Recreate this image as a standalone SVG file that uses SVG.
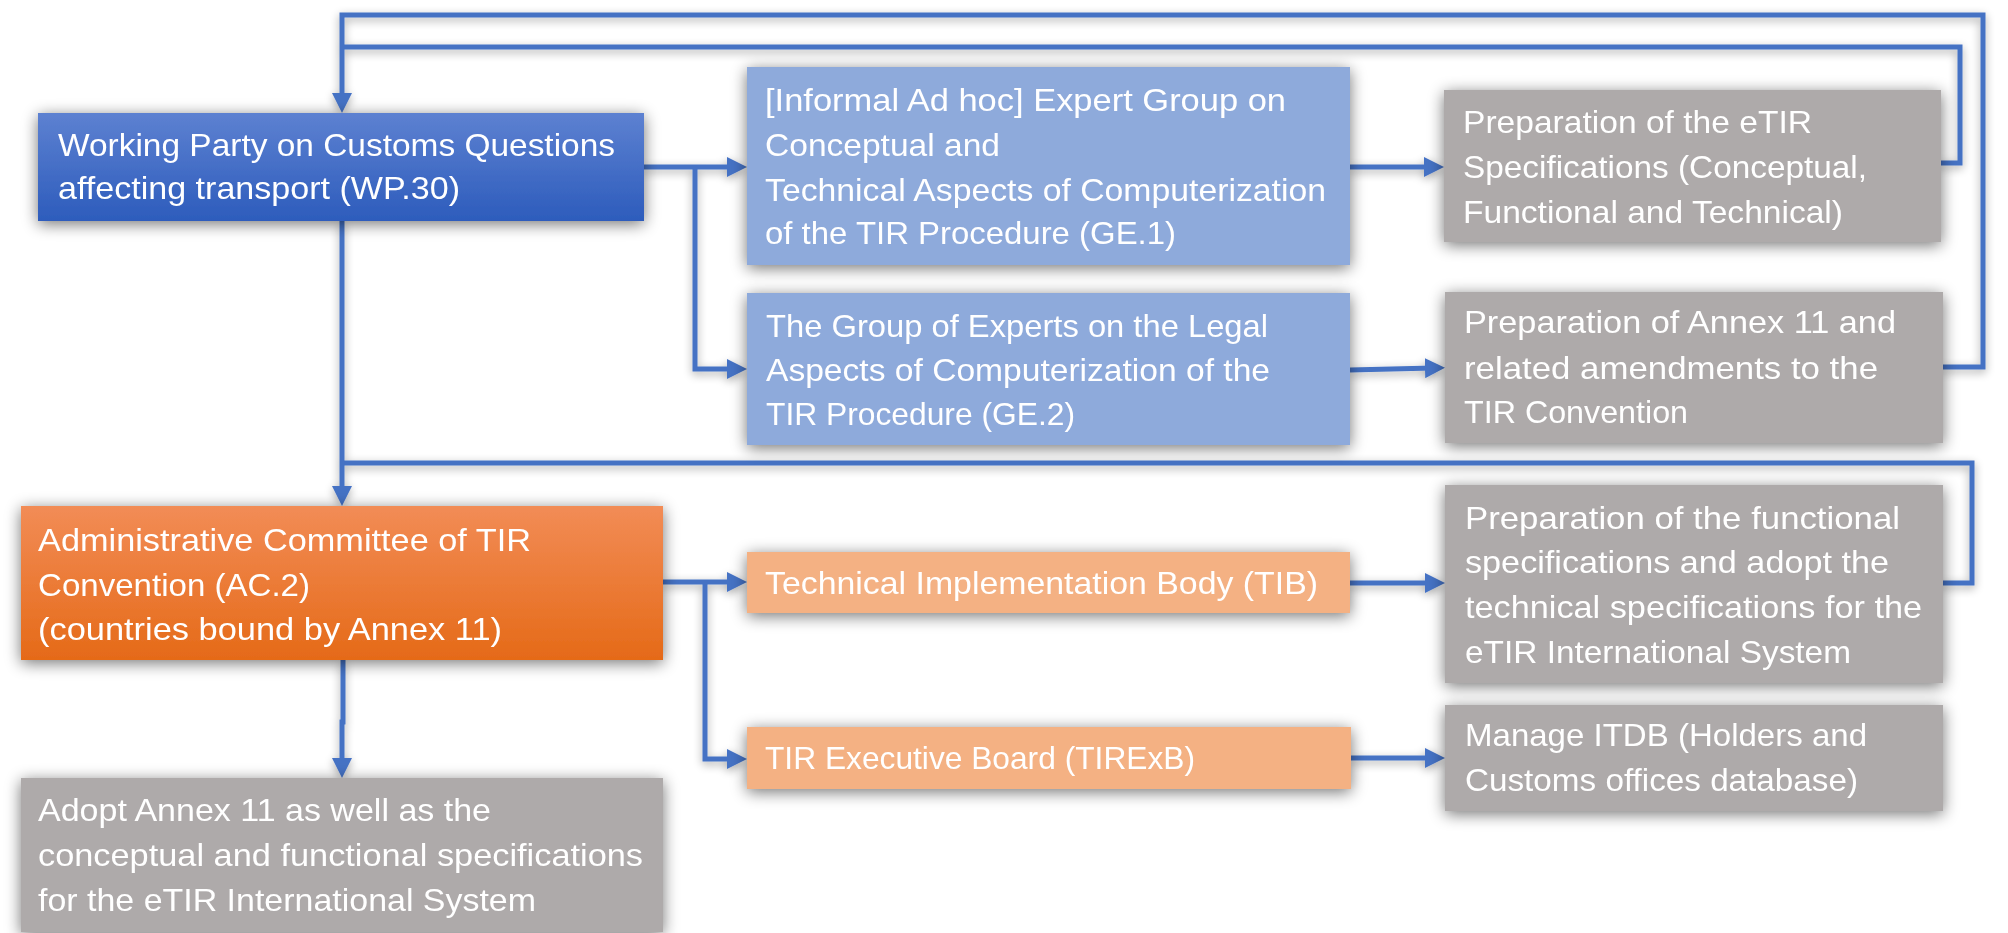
<svg xmlns="http://www.w3.org/2000/svg" width="2008" height="933" viewBox="0 0 2008 933">
<style>
.t{font-family:"Liberation Sans",Arial,sans-serif;font-size:32px;fill:#ffffff}
.c{fill:none;stroke:#4472c4;stroke-width:5}
.ca{fill:none;stroke:#4472c4;stroke-width:5;marker-end:url(#ah)}
.gray{fill:#aeaaaa}
.lb{fill:#8eaadb}
.lo{fill:#f4b183}
</style>
<defs>
<linearGradient id="gBlue" x1="0" y1="0" x2="0" y2="1">
<stop offset="0" stop-color="#5d81d1"/>
<stop offset="1" stop-color="#2d5cbc"/>
</linearGradient>
<linearGradient id="gOrange" x1="0" y1="0" x2="0" y2="1">
<stop offset="0" stop-color="#f28c56"/>
<stop offset="1" stop-color="#e56a18"/>
</linearGradient>
<filter id="sh" x="-20%" y="-40%" width="140%" height="180%">
<feGaussianBlur in="SourceAlpha" stdDeviation="8"/>
<feOffset dx="0" dy="3" result="b"/>
<feComponentTransfer><feFuncA type="linear" slope="0.55"/></feComponentTransfer>
<feMerge><feMergeNode/><feMergeNode in="SourceGraphic"/></feMerge>
</filter>
<filter id="lsh" x="-5%" y="-5%" width="110%" height="110%">
<feGaussianBlur in="SourceAlpha" stdDeviation="5"/>
<feOffset dx="0" dy="3" result="b"/>
<feComponentTransfer><feFuncA type="linear" slope="0.35"/></feComponentTransfer>
<feMerge><feMergeNode/><feMergeNode in="SourceGraphic"/></feMerge>
</filter>
<marker id="ah" markerUnits="userSpaceOnUse" markerWidth="20" markerHeight="20" refX="8" refY="10" orient="auto">
<path d="M0,0 L20,10 L0,20 z" fill="#4472c4"/>
</marker>
</defs>
<rect width="2008" height="933" fill="#ffffff"/>

<g id="connectors" filter="url(#lsh)">
<path class="ca" d="M1943 367 H1983 V15 H342 V101"/>
<path class="c" d="M1941 163 H1960 V47 H342"/>
<path class="c" d="M1943 583 H1972 V463 H342"/>
<path class="ca" d="M342 221 V494"/>
<path class="ca" d="M343 660 V722 H342 V766"/>
<path class="ca" d="M644 167 H735"/>
<path class="ca" d="M695 167 V369 H735"/>
<path class="ca" d="M1350 167 H1432"/>
<path class="ca" d="M1350 370 L1433 368"/>
<path class="ca" d="M663 582 H735"/>
<path class="ca" d="M705 582 V759 H735"/>
<path class="ca" d="M1350 583 H1433"/>
<path class="ca" d="M1351 758 H1433"/>
</g>

<g id="wp30" filter="url(#sh)">
<rect x="38" y="113" width="606" height="108" fill="url(#gBlue)"/>
<text class="t" x="58" y="156" textLength="557" lengthAdjust="spacingAndGlyphs">Working Party on Customs Questions</text>
<text class="t" x="58" y="199" textLength="402" lengthAdjust="spacingAndGlyphs">affecting transport (WP.30)</text>
</g>

<g id="ge1" filter="url(#sh)">
<rect class="lb" x="747" y="67" width="603" height="198"/>
<text class="t" x="765" y="111" textLength="521" lengthAdjust="spacingAndGlyphs">[Informal Ad hoc] Expert Group on</text>
<text class="t" x="765" y="156" textLength="235" lengthAdjust="spacingAndGlyphs">Conceptual and</text>
<text class="t" x="765" y="201" textLength="561" lengthAdjust="spacingAndGlyphs">Technical Aspects of Computerization</text>
<text class="t" x="765" y="244" textLength="411" lengthAdjust="spacingAndGlyphs">of the TIR Procedure (GE.1)</text>
</g>

<g id="ge2" filter="url(#sh)">
<rect class="lb" x="747" y="293" width="603" height="152"/>
<text class="t" x="766" y="337" textLength="502" lengthAdjust="spacingAndGlyphs">The Group of Experts on the Legal</text>
<text class="t" x="766" y="381" textLength="504" lengthAdjust="spacingAndGlyphs">Aspects of Computerization of the</text>
<text class="t" x="766" y="425" textLength="309" lengthAdjust="spacingAndGlyphs">TIR Procedure (GE.2)</text>
</g>

<g id="etir-spec" filter="url(#sh)">
<rect class="gray" x="1444" y="90" width="497" height="152"/>
<text class="t" x="1463" y="133" textLength="349" lengthAdjust="spacingAndGlyphs">Preparation of the eTIR</text>
<text class="t" x="1463" y="178" textLength="404" lengthAdjust="spacingAndGlyphs">Specifications (Conceptual,</text>
<text class="t" x="1463" y="223" textLength="380" lengthAdjust="spacingAndGlyphs">Functional and Technical)</text>
</g>

<g id="annex11" filter="url(#sh)">
<rect class="gray" x="1445" y="292" width="498" height="151"/>
<text class="t" x="1464" y="333" textLength="432" lengthAdjust="spacingAndGlyphs">Preparation of Annex 11 and</text>
<text class="t" x="1464" y="379" textLength="414" lengthAdjust="spacingAndGlyphs">related amendments to the</text>
<text class="t" x="1464" y="423" textLength="224" lengthAdjust="spacingAndGlyphs">TIR Convention</text>
</g>

<g id="ac2" filter="url(#sh)">
<rect x="21" y="506" width="642" height="154" fill="url(#gOrange)"/>
<text class="t" x="38" y="551" textLength="493" lengthAdjust="spacingAndGlyphs">Administrative Committee of TIR</text>
<text class="t" x="38" y="596" textLength="272" lengthAdjust="spacingAndGlyphs">Convention (AC.2)</text>
<text class="t" x="38" y="640" textLength="464" lengthAdjust="spacingAndGlyphs">(countries bound by Annex 11)</text>
</g>

<g id="tib" filter="url(#sh)">
<rect class="lo" x="747" y="552" width="603" height="61"/>
<text class="t" x="765" y="594" textLength="553" lengthAdjust="spacingAndGlyphs">Technical Implementation Body (TIB)</text>
</g>

<g id="tirexb" filter="url(#sh)">
<rect class="lo" x="747" y="727" width="604" height="62"/>
<text class="t" x="765" y="769" textLength="430" lengthAdjust="spacingAndGlyphs">TIR Executive Board (TIRExB)</text>
</g>

<g id="func-spec" filter="url(#sh)">
<rect class="gray" x="1445" y="485" width="498" height="198"/>
<text class="t" x="1465" y="529" textLength="435" lengthAdjust="spacingAndGlyphs">Preparation of the functional</text>
<text class="t" x="1465" y="573" textLength="424" lengthAdjust="spacingAndGlyphs">specifications and adopt the</text>
<text class="t" x="1465" y="618" textLength="457" lengthAdjust="spacingAndGlyphs">technical specifications for the</text>
<text class="t" x="1465" y="663" textLength="386" lengthAdjust="spacingAndGlyphs">eTIR International System</text>
</g>

<g id="itdb" filter="url(#sh)">
<rect class="gray" x="1445" y="705" width="498" height="106"/>
<text class="t" x="1465" y="746" textLength="402" lengthAdjust="spacingAndGlyphs">Manage ITDB (Holders and</text>
<text class="t" x="1465" y="791" textLength="393" lengthAdjust="spacingAndGlyphs">Customs offices database)</text>
</g>

<g id="adopt" filter="url(#sh)">
<rect class="gray" x="21" y="778" width="642" height="154"/>
<text class="t" x="38" y="821" textLength="453" lengthAdjust="spacingAndGlyphs">Adopt Annex 11 as well as the</text>
<text class="t" x="38" y="866" textLength="605" lengthAdjust="spacingAndGlyphs">conceptual and functional specifications</text>
<text class="t" x="38" y="911" textLength="498" lengthAdjust="spacingAndGlyphs">for the eTIR International System</text>
</g>
</svg>
